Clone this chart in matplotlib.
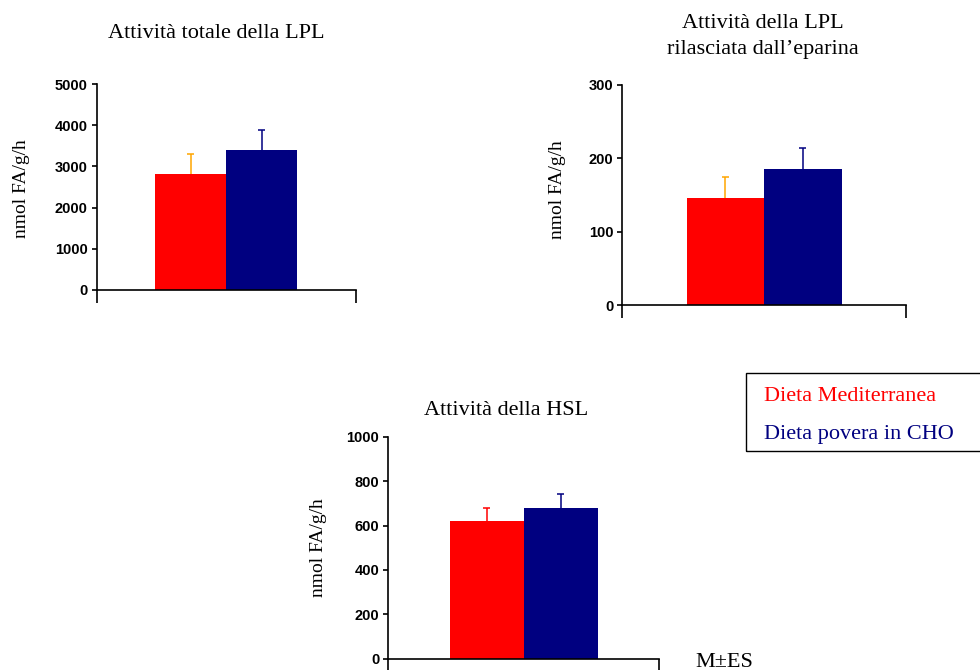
import numpy as np
from matplotlib import pyplot as plt

# data
groups = ["Dieta Mediterranea", "Dieta povera in CHO"]
colors = ["#ff0000", "#000080"]

titles = ["Attività totale della LPL",
          "Attività della LPL\nrilasciata dall\u2019eparina",
          "Attività della HSL"]
ylabel = "nmol FA/g/h"

lpl_tot_mean = [2820, 3400]
lpl_tot_err = [490, 490]
lpl_tot_ticks = [0, 1000, 2000, 3000, 4000, 5000]

lpl_hep_mean = [146, 185]
lpl_hep_err = [29, 29]
lpl_hep_ticks = [0, 100, 200, 300]

hsl_mean = [620, 680]
hsl_err = [57, 60]
hsl_ticks = [0, 200, 400, 600, 800, 1000]

W, H = 980, 670
serif = "Liberation Serif"
sans = "Liberation Sans"


def bar_panel(fig, box, means, errs, ticks, title, errcolors, title_x,
              title_y, lab_xy):
    # box = left, top(px), right, bottom(px) in pixels
    l, t, r, b = box
    ax = fig.add_axes([l / W, 1 - b / H, (r - l) / W, (b - t) / H])
    w = 0.273
    xs = [0.5 - w / 2, 0.5 + w / 2]
    ax.bar(xs, means, width=w, color=colors, edgecolor="none", zorder=2)
    cw = 3.5 / (r - l)  # half cap width, axes fraction
    for x, m, e, ec in zip(xs, means, errs, errcolors):
        ax.vlines(x, m, m + e, color=ec, linewidth=1.1, zorder=1)
        ax.hlines(m + e, x - cw, x + cw, color=ec, linewidth=1.1, zorder=1)
    ax.set_xlim(0, 1)
    ax.set_ylim(0, ticks[-1])
    ax.set_yticks(ticks)
    ax.set_yticklabels([str(t) for t in ticks], fontfamily=sans,
                       fontweight="bold", fontsize=10.5)
    ax.set_xticks([0, 1])
    ax.set_xticklabels([])
    ax.tick_params(axis="x", direction="out", length=9.5, width=1.2)
    ax.tick_params(axis="y", direction="out", length=3.5, width=1.2, pad=3)
    for s in ["top", "right"]:
        ax.spines[s].set_visible(False)
    for s in ["left", "bottom"]:
        ax.spines[s].set_linewidth(1.2)
    fig.text(lab_xy[0] / W, 1 - lab_xy[1] / H, ylabel, rotation=90,
             ha="center", va="center", fontfamily=serif, fontsize=14)
    for i, line in enumerate(title.split("\n")):
        fig.text(title_x / W, 1 - (title_y + 26 * i) / H, line,
                 ha="center", va="baseline", fontfamily=serif, fontsize=16)
    return ax


fig = plt.figure(figsize=(W / 100, H / 100), dpi=100)

bar_panel(fig, (96.5, 84, 356, 290), lpl_tot_mean, lpl_tot_err,
          lpl_tot_ticks, titles[0], ["#ffa500", "#000080"],
          216.5, 38.3, (21, 189))
bar_panel(fig, (622.3, 85, 906, 305.3), lpl_hep_mean, lpl_hep_err,
          lpl_hep_ticks, titles[1], ["#ffa500", "#000080"],
          763, 27.7, (557, 190))
bar_panel(fig, (388.3, 436.7, 659.3, 658.7), hsl_mean, hsl_err,
          hsl_ticks, titles[2], ["#ff0000", "#000080"],
          506, 415, (318, 548))

# legend box
box = plt.Rectangle((745.7 / W, 1 - 450.7 / H), 240 / W, 78 / H,
                    transform=fig.transFigure, fill=False,
                    edgecolor="black", linewidth=1.0)
fig.add_artist(box)
fig.text(764 / W, 1 - 400.7 / H, groups[0], color=colors[0],
         va="baseline", fontfamily=serif, fontsize=16)
fig.text(764 / W, 1 - 439 / H, groups[1], color=colors[1],
         va="baseline", fontfamily=serif, fontsize=16)

fig.text(695 / W, 1 - 666.7 / H, "M\u00b1ES", va="baseline",
         fontfamily=serif, fontsize=16)

fig.savefig("out.png", dpi=100)
